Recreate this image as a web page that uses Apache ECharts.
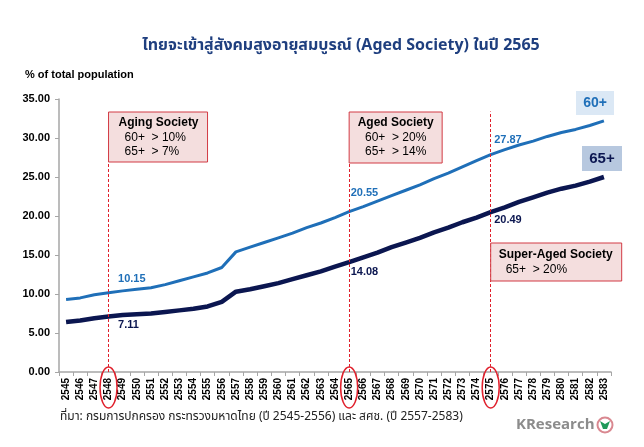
<!DOCTYPE html>
<html>
<head>
<meta charset="utf-8">
<script src="https://cdn.jsdelivr.net/npm/echarts@6/dist/echarts.min.js"></script>
<style>
html,body{margin:0;padding:0;background:#fff;}
#c{width:644px;height:447px;}
</style>
</head>
<body>
<div id="c"></div>
<script>
var years = [];
for (var yr = 2545; yr <= 2583; yr++) years.push(String(yr));

var pop60 = [9.3, 9.5, 9.9, 10.15, 10.4, 10.6, 10.8, 11.2, 11.7, 12.2, 12.7, 13.4,
  15.4, 16.0, 16.6, 17.2, 17.8, 18.5, 19.1, 19.8, 20.55,
  21.2, 21.9, 22.6, 23.3, 24.0, 24.8, 25.5, 26.3, 27.1, 27.87,
  28.5, 29.1, 29.6, 30.2, 30.7, 31.1, 31.6, 32.2];
var pop65 = [6.4, 6.6, 6.9, 7.11, 7.3, 7.4, 7.5, 7.7, 7.9, 8.1, 8.4, 9.0,
  10.3, 10.6, 11.0, 11.4, 11.9, 12.4, 12.9, 13.5, 14.08,
  14.7, 15.3, 16.0, 16.6, 17.2, 17.9, 18.5, 19.2, 19.8, 20.49,
  21.1, 21.8, 22.4, 23.0, 23.5, 23.9, 24.4, 25.0];
var yTicks = [0, 5, 10, 15, 20, 25, 30, 35];
var milestones = ['2548', '2565', '2575'];

var titleText = 'ไทยจะเข้าสู่สังคมสูงอายุสมบูรณ์ (Aged Society) ในปี 2565';
var yName = '% of total population';
var sourceText = 'ที่มา: กรมการปกครอง กระทรวงมหาดไทย (ปี 2545-2556) และ สศช. (ปี 2557-2583)';

var C60 = '#1f6fb8', C65 = '#0b1650', RED = '#e0202c';
var thaiFont = '"Noto Sans Thai","Noto Sans Thai Looped","Loma","Garuda","Tlwg Typo","Noto Sans","DejaVu Sans",sans-serif';

function idx(y) { return years.indexOf(y); }

function mp(yearStr, vals, color, off) {
  var i = idx(yearStr);
  return {
    coord: [i, vals[i]], value: vals[i].toFixed(2),
    symbol: 'circle', symbolSize: 1, itemStyle: {color: 'rgba(0,0,0,0)'},
    label: {show: true, position: 'right', distance: 0, offset: off,
      formatter: function(p){ return p.value; },
      color: color, fontWeight: 'bold', fontSize: 11, fontFamily: 'Arial, "Liberation Sans"'}
  };
}

var chart = echarts.init(document.getElementById('c'), null, {renderer: 'canvas'});
var option = {
  animation: false,
  grid: {left: 59, right: 33, top: 99, bottom: 75, containLabel: false},
  xAxis: {
    type: 'category', data: years, boundaryGap: true,
    axisLine: {lineStyle: {color: '#a6a6a6', width: 1.5}},
    axisTick: {show: true, length: 4, lineStyle: {color: '#a6a6a6'}},
    axisLabel: {interval: 0, rotate: 90, margin: 6, color: '#000', fontWeight: 'bold', fontSize: 10, fontFamily: 'Arial, "Liberation Sans"'},
    splitLine: {show: false}
  },
  yAxis: {
    type: 'value', min: yTicks[0], max: yTicks[yTicks.length-1], interval: yTicks[1]-yTicks[0],
    axisLine: {show: true, lineStyle: {color: '#a6a6a6', width: 1.5}},
    axisTick: {show: true, length: 4, lineStyle: {color: '#a6a6a6'}},
    axisLabel: {margin: 9, color: '#000', fontWeight: 'bold', fontSize: 11, fontFamily: 'Arial, "Liberation Sans"',
      formatter: function(v){ return v.toFixed(2); }},
    splitLine: {show: false}
  },
  series: [
    {
      name: '60+', type: 'line', data: pop60, showSymbol: false, symbol: 'none',
      lineStyle: {color: C60, width: 3}, z: 3,
      markPoint: {data: [mp('2548', pop60, C60, [9, -14]), mp('2565', pop60, C60, [1, -19]), mp('2575', pop60, C60, [3, -15])]},
      markLine: {
        symbol: 'none', silent: true,
        lineStyle: {color: RED, type: [3, 2], width: 1},
        label: {show: false},
        data: [
          [{coord: [idx('2548'), 0]}, {coord: [idx('2548'), 27.0]}],
          [{coord: [idx('2565'), 0]}, {coord: [idx('2565'), 26.9]}],
          [{coord: [idx('2575'), 0]}, {coord: [idx('2575'), 33.4]}]
        ]
      }
    },
    {
      name: '65+', type: 'line', data: pop65, showSymbol: false, symbol: 'none',
      lineStyle: {color: C65, width: 4.5}, z: 4,
      markPoint: {data: [mp('2548', pop65, C65, [9, 8]), mp('2565', pop65, C65, [1, 10]), mp('2575', pop65, C65, [3, 8])]}
    }
  ]
};
chart.setOption(option);

function px(yearStr) { return chart.convertToPixel({xAxisIndex: 0}, idx(yearStr)); }

var boxStyle = {fill: '#f4dede', stroke: '#d23a44', lineWidth: 1};
var bFont = 'bold 12px Arial, "Liberation Sans"';
var rFont = '12px Arial, "Liberation Sans"';

var x48 = px('2548'), x65 = px('2565'), x75 = px('2575');
var g = [
  {type: 'text', x: 341, y: 47, style: {text: titleText, fill: '#1f3f7f', font: 'bold 16px ' + thaiFont, align: 'center', verticalAlign: 'middle'}},
  {type: 'text', left: 25, top: 69, style: {text: yName, fill: '#000', font: 'bold 11px Arial, "Liberation Sans"'}},
  {type: 'text', x: 60, y: 418, style: {text: sourceText, fill: '#222', font: '12px ' + thaiFont, verticalAlign: 'middle'}},
  // boxes
  {type: 'rect', shape: {x: x48, y: 112, width: 99, height: 50}, style: boxStyle, z: 10},
  {type: 'text', x: x48 + 10, y: 123, z: 11, style: {text: 'Aging Society', font: bFont, fill: '#000', verticalAlign: 'middle'}},
  {type: 'text', x: x48 + 16, y: 137.5, z: 11, style: {text: '60+  > 10%', font: rFont, fill: '#000', verticalAlign: 'middle'}},
  {type: 'text', x: x48 + 16, y: 152, z: 11, style: {text: '65+  > 7%', font: rFont, fill: '#000', verticalAlign: 'middle'}},

  {type: 'rect', shape: {x: x65, y: 112, width: 93, height: 51}, style: boxStyle, z: 10},
  {type: 'text', x: x65 + 46.5, y: 123, z: 11, style: {text: 'Aged Society', font: bFont, fill: '#000', align: 'center', verticalAlign: 'middle'}},
  {type: 'text', x: x65 + 46.5, y: 137.5, z: 11, style: {text: '60+  > 20%', font: rFont, fill: '#000', align: 'center', verticalAlign: 'middle'}},
  {type: 'text', x: x65 + 46.5, y: 152, z: 11, style: {text: '65+  > 14%', font: rFont, fill: '#000', align: 'center', verticalAlign: 'middle'}},

  {type: 'rect', shape: {x: x75, y: 243, width: 131, height: 38}, style: boxStyle, z: 10},
  {type: 'text', x: x75 + 8, y: 255, z: 11, style: {text: 'Super-Aged Society', font: bFont, fill: '#000', verticalAlign: 'middle'}},
  {type: 'text', x: x75 + 15, y: 270, z: 11, style: {text: '65+  > 20%', font: rFont, fill: '#000', verticalAlign: 'middle'}},

  // series tags
  {type: 'rect', shape: {x: 576, y: 91, width: 38, height: 24}, style: {fill: '#dbe8f5'}, z: 10},
  {type: 'text', x: 595, y: 103, z: 11, style: {text: '60+', font: 'bold 14px Arial, "Liberation Sans"', fill: C60, align: 'center', verticalAlign: 'middle'}},
  {type: 'rect', shape: {x: 582, y: 146, width: 40, height: 25}, style: {fill: '#b7c8df'}, z: 10},
  {type: 'text', x: 602, y: 158.5, z: 11, style: {text: '65+', font: 'bold 15px Arial, "Liberation Sans"', fill: C65, align: 'center', verticalAlign: 'middle'}},

  // logo
  {type: 'text', x: 516, y: 425, style: {text: 'KResearch', font: 'bold 15px "Open Sans", Arial', fill: '#8c8c8c', verticalAlign: 'middle'}},
  {type: 'circle', shape: {cx: 605, cy: 425, r: 7.5}, style: {fill: '#fff', stroke: '#d98890', lineWidth: 2}},
  {type: 'polygon', shape: {points: [[600, 421], [605, 424], [610, 421], [607, 429], [603, 429]]}, style: {fill: '#1f9a5a'}}
];
milestones.forEach(function(m){
  g.push({type: 'ellipse', shape: {cx: px(m), cy: 387.5, rx: 8.5, ry: 20.5}, style: {fill: 'none', stroke: RED, lineWidth: 1.5}, z: 12});
});
chart.setOption({graphic: g});
</script>
</body>
</html>
